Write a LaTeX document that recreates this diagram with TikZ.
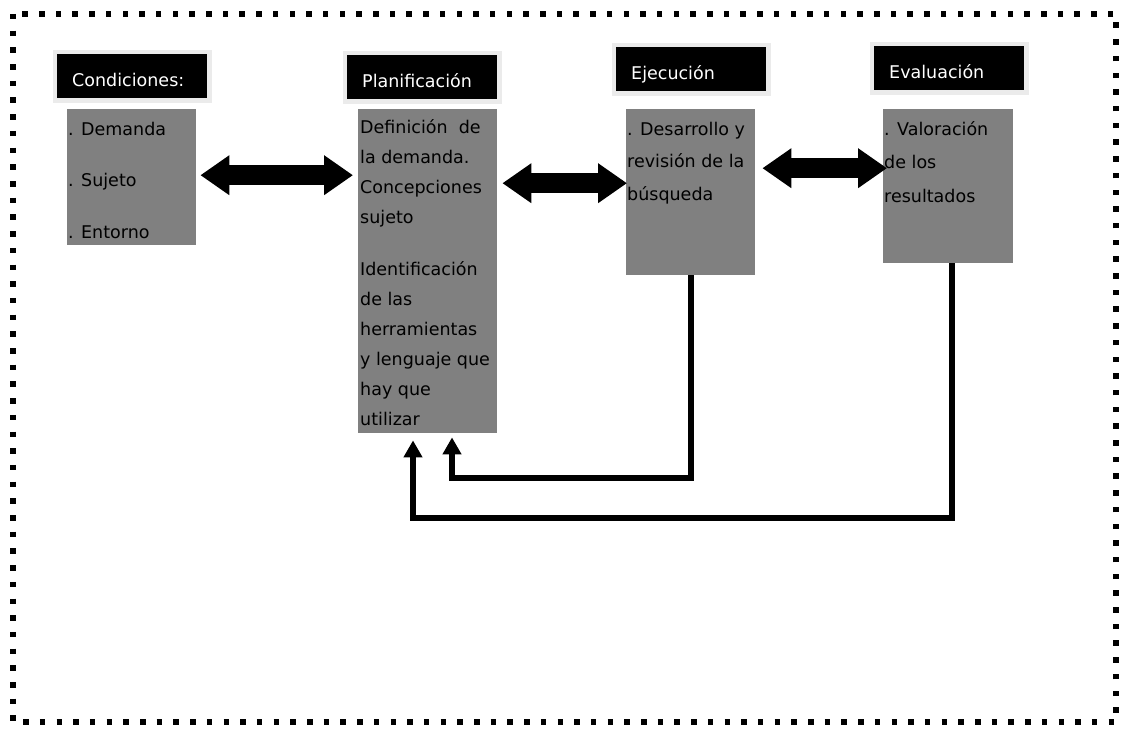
\documentclass[tikz,border=0pt]{standalone}
\usepackage{fontspec}
\setmainfont{DejaVu Sans}
\usetikzlibrary{arrows.meta}

\definecolor{cajagris}{HTML}{808080}
\definecolor{marco}{HTML}{EBEBEB}

\begin{document}
\begin{tikzpicture}[x=1pt,y=-1pt,
  titulo/.style={fill=black,text=white,preaction={draw=marco,line width=9pt},
    anchor=north west,text width=120pt,inner xsep=15pt,inner ysep=0pt,
    minimum height=44pt,text height=20pt,text depth=0pt,align=left,
    font=\fontsize{17.5}{20}\selectfont},
  caja/.style={fill=cajagris,anchor=north west,inner sep=0pt},
  texto/.style={anchor=north west,inner sep=0pt,align=left,text=black,
    font=\fontsize{17.5}{30}\selectfont},
  dobleflecha/.style={line width=20pt,
    {Triangle[width=38pt,length=29pt]}-{Triangle[width=38pt,length=29pt]}},
  retorno/.style={line width=6pt,-{Triangle[width=18pt,length=17pt]}},
  frontera/.style={line width=5.5pt,dash pattern=on 5.5pt off 11.2pt}]
  \useasboundingbox (0,0) rectangle (1123,730);
  \draw[frontera] (13,14) rectangle (1116,722);
  % titulos
  \node[titulo] (tcond) at (57,54) {Condiciones:};
  \node[titulo] (tplan) at (347,55) {Planificación};
  \node[titulo] (tejec) at (616,47) {Ejecución};
  \node[titulo] (teval) at (874,46) {Evaluación};
  % cajas
  \node[caja,minimum width=129pt,minimum height=136pt] (cond) at (67,109) {};
  \node[caja,minimum width=139pt,minimum height=324pt] (plan) at (358,109) {};
  \node[caja,minimum width=129pt,minimum height=166pt] (ejec) at (626,109) {};
  \node[caja,minimum width=130pt,minimum height=154pt] (eval) at (883,109) {};
  \node[texto] (xcond) at ([shift={(1,5)}]cond.north west)
    {\strut. Demanda\\[21.5pt]\strut. Sujeto\\[21.5pt]\strut. Entorno};
  \node[texto] (xplan) at ([shift={(2,3)}]plan.north west)
    {\strut Definición\ \ de\\\strut la demanda.\\\strut Concepciones\\\strut sujeto\\[22pt]
     \strut Identificación\\\strut de las\\\strut herramientas\\\strut y lenguaje que\\
     \strut hay que\\\strut utilizar};
  \node[texto] (xejec) at ([shift={(1,5)}]ejec.north west)
    {\strut. Desarrollo y\\[2.5pt]\strut revisión de la\\[2.5pt]\strut búsqueda};
  \node[texto] (xeval) at ([shift={(1,5)}]eval.north west)
    {\strut. Valoración\\[3.5pt]\strut de los\\[3.5pt]\strut resultados};
  % flechas dobles
  \draw[dobleflecha] ([xshift=4pt,yshift=2pt]cond.east)
    -- ([xshift=-5pt,yshift=2pt]plan.west |- cond.east);
  \draw[dobleflecha] ([xshift=5pt,yshift=9pt]plan.east |- ejec.west)
    -- ([xshift=1pt,yshift=9pt]ejec.west);
  \draw[dobleflecha] ([xshift=7pt,yshift=18pt]ejec.east |- eval.west)
    -- ([xshift=4pt,yshift=18pt]eval.west);
  % retornos
  \coordinate (vuelta1) at (452,478);
  \coordinate (vuelta2) at (413,518);
  \draw[retorno] (ejec.south) |- (vuelta1) -- ([yshift=-4pt]plan.south -| vuelta1);
  \draw[retorno] ([xshift=4pt]eval.south) |- (vuelta2) -- ([yshift=-7pt]plan.south -| vuelta2);
\end{tikzpicture}
\end{document}
